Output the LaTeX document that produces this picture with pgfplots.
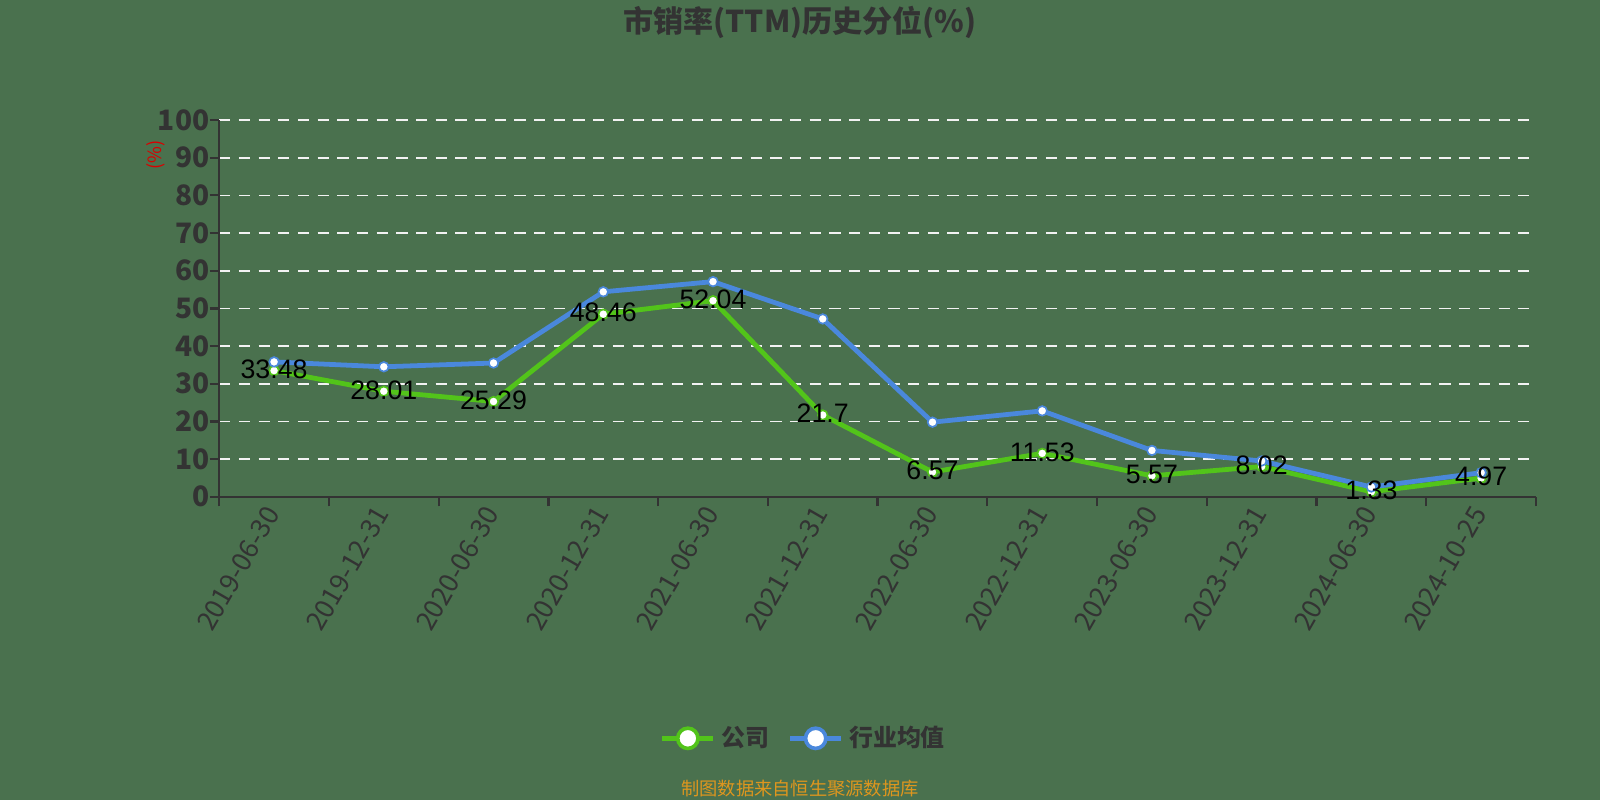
\documentclass[border=0pt]{standalone}
\usepackage{pgfplots}
\pgfplotsset{compat=1.18}
\usepackage{fontspec}
\setmainfont{Noto Sans CJK SC}
\newfontfamily\labelfont{Liberation Sans}
\definecolor{bg}{RGB}{74,113,78}
\definecolor{gline}{RGB}{82,196,26}
\definecolor{bline}{RGB}{74,136,220}
\definecolor{axc}{RGB}{51,51,51}
\definecolor{foot}{RGB}{222,150,30}
\begin{document}
\begin{tikzpicture}
\path[use as bounding box, fill=bg] (0,0) rectangle (20,10);
\node[text=axc, font=\fontsize{10.7}{13}\selectfont\bfseries] at (10,9.72) {市销率(TTM)历史分位(\%)};
\begin{axis}[
  at={(2.74cm,3.79cm)}, anchor=south west,
  scale only axis, width=16.46cm, height=4.71cm,
  xmin=0, xmax=12, ymin=0, ymax=100,
  axis x line*=bottom, axis y line*=left,
  axis line style={axc, line width=0.8pt},
  xtick={0.5,1.5,...,11.5},
  xticklabels={2019-06-30,2019-12-31,2020-06-30,2020-12-31,2021-06-30,2021-12-31,2022-06-30,2022-12-31,2023-06-30,2023-12-31,2024-06-30,2024-10-25},
  minor xtick={0,1,...,12},
  major x tick style={draw=none},
  minor x tick style={axc, line width=0.8pt},
  ytick={0,10,...,100},
  y tick style={axc, line width=0.8pt},
  tick align=outside,
  minor tick length=0.12cm, major tick length=0.12cm,
  ymajorgrids=true,
  grid style={white!90!gray, dashed, dash pattern=on 4pt off 3pt, line width=0.6pt},
  /pgf/number format/assume math mode=true,
  yticklabel style={text=axc, font=\fontsize{10}{12}\selectfont\bfseries, xshift=0.12cm},
  xticklabel style={text=axc, font=\fontsize{9.5}{11}\selectfont, rotate=60, anchor=east, inner sep=1pt},
  clip=false,
  legend style={at={(0.445,-0.641)}, anchor=center, legend columns=2, draw=none, fill=none,
    font=\fontsize{8.5}{10}\selectfont\bfseries, text=axc,
    /tikz/every even column/.append style={column sep=0.16cm}},
  legend image code/.code={
    \draw[#1, mark=none] (0cm,0cm) -- (0.64cm,0cm);
    \draw[#1, fill=white, line width=1.3pt] (0.32cm,0cm) circle (3.6pt);
  },
]
\addplot[gline, line width=1.7pt, mark=*, mark size=1.7pt, mark options={fill=white, draw=gline, line width=0.6pt}]
  coordinates {(0.5,33.48) (1.5,28.01) (2.5,25.29) (3.5,48.46) (4.5,52.04) (5.5,21.7) (6.5,6.57) (7.5,11.53) (8.5,5.57) (9.5,8.02) (10.5,1.33) (11.5,4.97)};
\addlegendentry{公司}
\addplot[bline, line width=1.7pt, mark=*, mark size=1.7pt, mark options={fill=white, draw=bline, line width=0.6pt}]
  coordinates {(0.5,35.8) (1.5,34.5) (2.5,35.5) (3.5,54.4) (4.5,57.1) (5.5,47.2) (6.5,19.8) (7.5,22.8) (8.5,12.3) (9.5,9.5) (10.5,2.6) (11.5,6.4)};
\addlegendentry{行业均值}
\addplot[draw=none, mark=none, forget plot, point meta=explicit symbolic,
  nodes near coords, nodes near coords align={center},
  every node near coord/.append style={text=black, font=\labelfont\fontsize{9.5}{11}\selectfont, anchor=center, yshift=0.5pt}]
  coordinates {(0.5,33.48) [33.48] (1.5,28.01) [28.01] (2.5,25.29) [25.29] (3.5,48.46) [48.46] (4.5,52.04) [52.04] (5.5,21.7) [21.7] (6.5,6.57) [6.57] (7.5,11.53) [11.53] (8.5,5.57) [5.57] (9.5,8.02) [8.02] (10.5,1.33) [1.33] (11.5,4.97) [4.97]};
\end{axis}
\node[rotate=90, text=red!85!black, font=\fontsize{6.5}{8}\selectfont] at (1.95,8.06) {(\%)};
\node[text=foot, font=\fontsize{6.5}{8}\selectfont] at (10,0.14) {制图数据来自恒生聚源数据库};
\end{tikzpicture}
\end{document}
